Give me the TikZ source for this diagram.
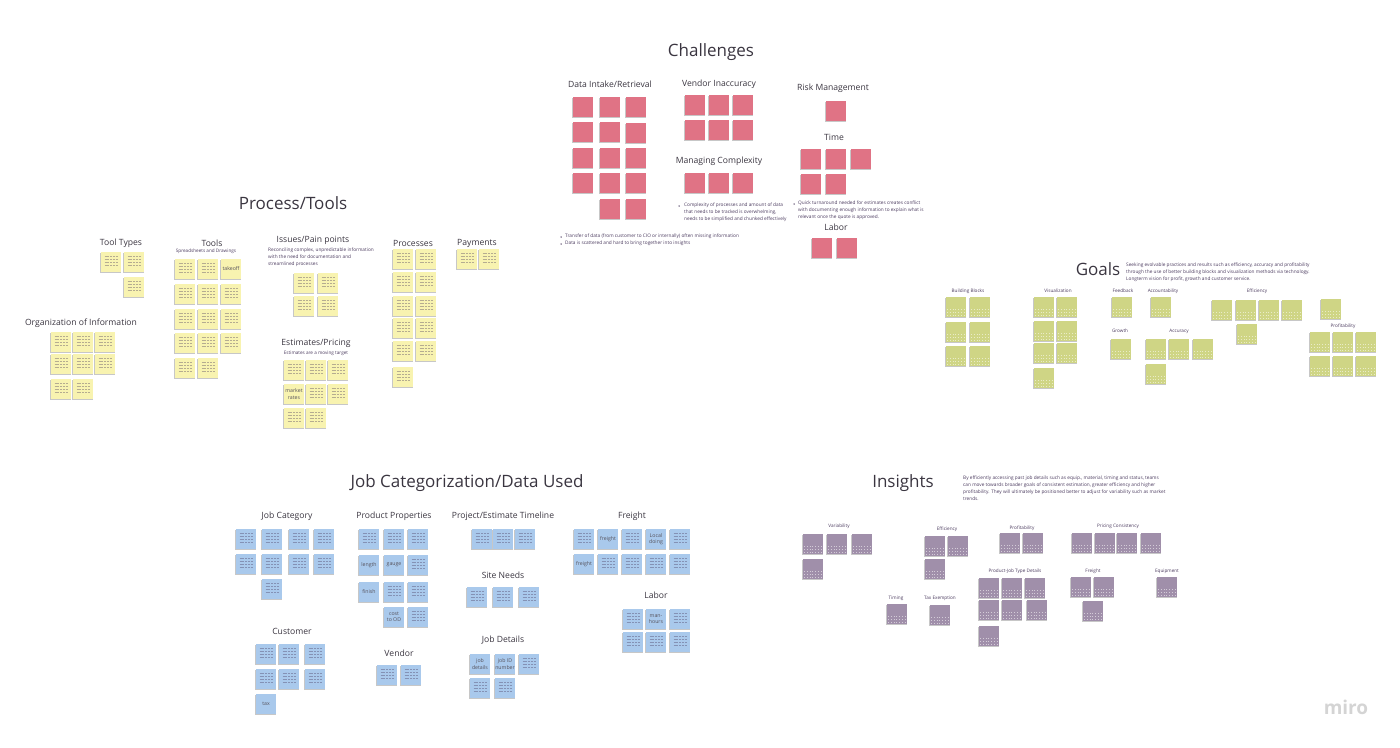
\documentclass[tikz,border=0pt]{standalone}
\usepackage{fontspec}
\setmainfont{Open Sans}
\usepackage{xcolor}
\usetikzlibrary{shadows}
\definecolor{stickyred}{HTML}{E07385}
\definecolor{stickyyellow}{HTML}{F8F3B0}
\definecolor{stickygreen}{HTML}{CFD585}
\definecolor{stickyblue}{HTML}{A9C9EC}
\definecolor{stickypurple}{HTML}{A08FAA}
\definecolor{inkdark}{HTML}{3A3540}
\definecolor{inkbody}{HTML}{4A3A5E}
\tikzset{
    boardtitle/.style={font=\fontsize{17}{20}\selectfont, text=inkdark, inner sep=0pt},
    grouplabel/.style={font=\fontsize{8.6}{10}\selectfont, text=inkdark, inner sep=0pt},
    smalllabel/.style={font=\fontsize{4.65}{6}\selectfont, text=inkbody, inner sep=0pt},
    bodytext/.style={font=\fontsize{4.75}{7}\selectfont, text=inkbody, align=left, anchor=north west, inner sep=0pt},
    bulletdot/.style={circle, fill=inkbody, minimum size=1.5pt, inner sep=0pt},
    sticky/.style={minimum size=20.5pt, inner sep=0pt, align=center,
        general shadow={fill=black!22, shadow xshift=-0.6pt, shadow yshift=-0.9pt}},
    stickytext/.style={sticky, font=\fontsize{5.2}{6.4}\selectfont, text=inkdark!85},
    textlines/.style={path picture={
        \foreach \ly in {-3,0,3,6}
            \draw[inkbody, opacity=0.38, line width=0.7pt, dash pattern=on 2pt off 0.8pt]
                ([xshift=-6.5pt,yshift=\ly pt]path picture bounding box.center) -- ([xshift=6.5pt,yshift=\ly pt]path picture bounding box.center);
    }},
    whitedots/.style={path picture={
        \foreach \ly in {-8,-5,-2}
            \draw[white, opacity=0.55, line width=0.6pt, dash pattern=on 0.6pt off 2.2pt]
                ([xshift=-9pt,yshift=\ly pt]path picture bounding box.center) -- ([xshift=9pt,yshift=\ly pt]path picture bounding box.center);
    }},
    milogo/.style={font=\fontsize{19}{20}\selectfont\bfseries, text=black!17, inner sep=0pt}
}

\begin{document}
\begin{tikzpicture}[x=1pt,y=-1pt]
    \useasboundingbox (0,0) rectangle (1400,747);

    % Challenges
    \node[boardtitle] (challenges) at (711,52) {Challenges};
    \node[grouplabel] (intake) at (610,84) {Data Intake/Retrieval};
    \node[grouplabel] (vendorerr) at (719,84) {Vendor Inaccuracy};
    \node[grouplabel] (risk) at (833,88) {Risk Management};
    \node[grouplabel] (timelabel) at (834,137) {Time};
    \node[grouplabel] (complexity) at (719,161) {Managing Complexity};
    \node[grouplabel] (laborred) at (836,227) {Labor};
    \foreach \cx/\cy [count=\n] in {583/107,610/107,636/107,583/132,610/132,636/133,583/158,610/158,636/158,583/183,610/183,636/183,610/209,636/209,
        695/105,719/105,743/105,695/130,719/130,743/130,695/183,719/183,743/183,
        836/111,811/159,836/159,861/159,811/184,836/184,822/248,847/248}
        \node[sticky, fill=stickyred] (red\n) at (\cx,\cy) {};
    \node[bulletdot] (bulletc) at (679,206) {};
    \node[bodytext] (complexnote) at (684,203) {Complexity of processes and amount of data\\that needs to be tracked is overwhelming,\\needs to be simplified and chunked effectively};
    \node[bulletdot] (bullett) at (794,204) {};
    \node[bodytext] (timenote) at (798,201) {Quick turnaround needed for estimates creates conflict\\with documenting enough information to explain what is\\relevant once the quote is approved.};
    \node[bulletdot] (bulleta) at (561,237) {};
    \node[bodytext] (transfer) at (565,234) {Transfer of data (from customer to CIO or internally) often missing information};
    \node[bulletdot] (bulletb) at (561,244) {};
    \node[bodytext] (scattered) at (565,241) {Data is scattered and hard to bring together into insights};

    % Process/Tools
    \node[boardtitle] (process) at (293,203) {Process/Tools};
    \node[grouplabel] (tooltypes) at (121,243) {Tool Types};
    \node[grouplabel] (tools) at (212,243) {Tools};
    \node[smalllabel] (toolsub) at (206,251) {Spreadsheets and Drawings};
    \node[grouplabel] (issues) at (313,240) {Issues/Pain points};
    \node[bodytext] (issuenote) at (268,248) {Reconciling complex, unpredictable information\\with the need for documentation and\\streamlined processes};
    \node[grouplabel] (estimates) at (316,343) {Estimates/Pricing};
    \node[smalllabel] (estimatesub) at (316,353) {Estimates are a moving target};
    \node[grouplabel] (processes) at (413,243) {Processes};
    \node[grouplabel] (payments) at (477,243) {Payments};
    \node[grouplabel] (orginfo) at (81,323) {Organization of Information};
    \foreach \cx/\cy [count=\n] in {111/262,134/262,134/287,
        185/269,208/269,185/294,208/294,231/294,185/319,208/319,231/319,185/343,208/343,231/343,185/368,208/368,
        304/283,328/283,304/306,328/306,
        294/370,316/370,338/370,316/394,338/394,294/418,316/418,
        403/259,426/259,403/282,426/282,403/306,426/306,403/328,426/328,403/351,426/351,403/377,
        467/259,489/259,
        61/342,83/342,105/342,61/364,83/364,105/364,61/389,83/389}
        \node[sticky, fill=stickyyellow, textlines] (yel\n) at (\cx,\cy) {};
    \node[stickytext, fill=stickyyellow] (takeoff) at (231,269) {takeoff};
    \node[stickytext, fill=stickyyellow] (market) at (294,394) {market\\rates};

    % Goals
    \node[boardtitle] (goals) at (1098,269) {Goals};
    \node[bodytext] (goalnote) at (1126,263) {Seeking evolvable practices and results such as efficiency, accuracy and profitability\\through the use of better building blocks and visualization methods via technology.\\Longterm vision for profit, growth and customer service.};
    \node[smalllabel] (blocks) at (968,291) {Building Blocks};
    \node[smalllabel] (visual) at (1058,291) {Visualization};
    \node[smalllabel] (feedback) at (1123,291) {Feedback};
    \node[smalllabel] (account) at (1163,291) {Accountability};
    \node[smalllabel] (growth) at (1120,331) {Growth};
    \node[smalllabel] (accuracy) at (1179,331) {Accuracy};
    \node[smalllabel] (effgoal) at (1257,291) {Efficiency};
    \node[smalllabel] (profgoal) at (1343,326) {Profitability};
    \foreach \cx/\cy [count=\n] in {956/307,980/307,956/332,980/332,956/356,980/356,
        1044/307,1067/307,1044/331,1067/331,1044/353,1067/353,1044/378,
        1122/307,1161/307,1121/349,1156/349,1179/349,1203/349,1156/374,
        1222/310,1246/310,1269/310,1292/310,1247/334,1331/309,
        1320/342,1343/342,1366/342,1320/366,1343/366,1366/366}
        \node[sticky, fill=stickygreen, whitedots] (grn\n) at (\cx,\cy) {};

    % Job Categorization/Data Used
    \node[boardtitle] (jobcat) at (467,483) {Job Categorization/Data Used};
    \node[grouplabel] (jobcategory) at (287,516) {Job Category};
    \node[grouplabel] (product) at (394,516) {Product Properties};
    \node[grouplabel] (timeline) at (503,516) {Project/Estimate Timeline};
    \node[grouplabel] (freight) at (632,516) {Freight};
    \node[grouplabel] (site) at (503,575) {Site Needs};
    \node[grouplabel] (laborblue) at (656,595) {Labor};
    \node[grouplabel] (customer) at (292,631) {Customer};
    \node[grouplabel] (jobdetails) at (503,640) {Job Details};
    \node[grouplabel] (vendor) at (399,653) {Vendor};
    \foreach \cx/\cy [count=\n] in {246/539,272/539,299/539,324/539,246/564,272/564,299/564,324/564,272/589,
        369/539,394/539,418/539,418/565,394/592,418/592,418/617,
        482/539,503/539,525/539,477/597,503/597,529/597,529/664,480/688,505/688,
        584/539,632/539,680/539,608/564,632/564,656/564,680/564,
        633/619,680/619,633/642,656/642,680/642,
        266/654,289/654,315/654,266/679,289/679,315/679,
        387/675,411/675}
        \node[sticky, fill=stickyblue, textlines] (blu\n) at (\cx,\cy) {};
    \foreach \cx/\cy/\stext [count=\n] in {369/565/length,394/565/gauge,369/592/finish,394/617/cost\\to OD,
        608/539/freight,584/564/freight,656/539/Local\\doing,656/619/man-\\hours,480/664/job\\details,505/664/job ID\\number,266/704/tax}
        \node[stickytext, fill=stickyblue] (bluetext\n) at (\cx,\cy) {\stext};

    % Insights
    \node[boardtitle] (insights) at (903,483) {Insights};
    \node[bodytext] (insightnote) at (963,476) {By efficiently accessing past job details such as equip., material, timing and status, teams\\can move towards broader goals of consistent estimation, greater efficiency and higher\\profitability.  They will ultimately be positioned better to adjust for variability such as market\\trends.};
    \node[smalllabel] (variability) at (839,526) {Variability};
    \node[smalllabel] (effins) at (947,529) {Efficiency};
    \node[smalllabel] (profins) at (1022,528) {Profitability};
    \node[smalllabel] (pricing) at (1118,526) {Pricing Consistency};
    \node[smalllabel] (jobtype) at (1015,571) {Product-Job Type Details};
    \node[smalllabel] (freightins) at (1093,571) {Freight};
    \node[smalllabel] (equipment) at (1167,571) {Equipment};
    \node[smalllabel] (timing) at (896,598) {Timing};
    \node[smalllabel] (taxex) at (940,598) {Tax Exemption};
    \foreach \cx/\cy [count=\n] in {813/544,837/544,862/544,813/569,
        935/546,958/546,935/569,1010/543,1033/543,
        1082/543,1105/543,1127/543,1151/543,
        989/588,1012/588,1035/588,989/610,1012/610,1037/610,989/636,
        1081/587,1104/587,1093/611,1167/587,897/614,940/615}
        \node[sticky, fill=stickypurple, whitedots] (pur\n) at (\cx,\cy) {};

    \node[milogo] (miro) at (1346,707) {miro};
\end{tikzpicture}
\end{document}
